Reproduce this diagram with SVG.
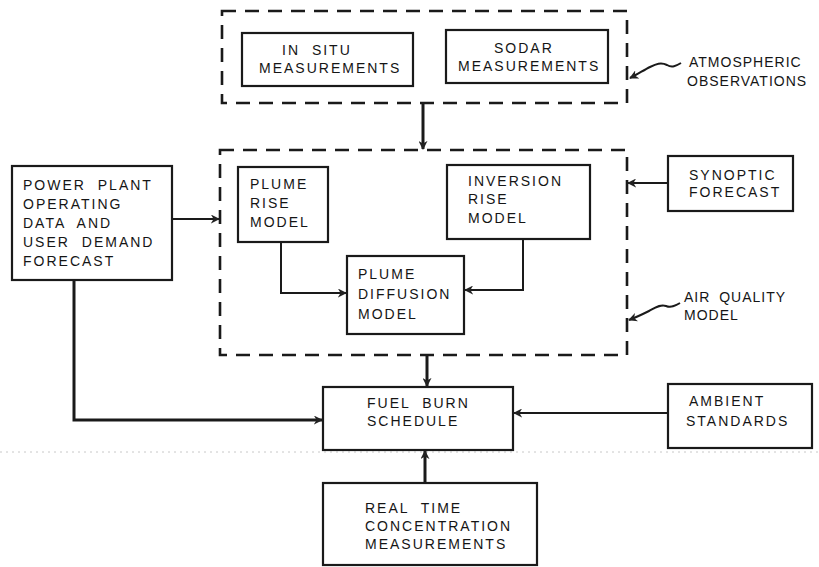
<svg xmlns="http://www.w3.org/2000/svg" width="819" height="567" viewBox="0 0 819 567">
<defs>
<marker id="ah" viewBox="0 0 10 10" refX="9" refY="5" markerWidth="9" markerHeight="9" markerUnits="userSpaceOnUse" orient="auto">
<path d="M0,0 L10,5 L0,10 L3,5 Z" fill="#222"/>
</marker>
<style>
.box{fill:none;stroke:#1a1a1a;stroke-width:2.2}
.dash{fill:none;stroke:#1a1a1a;stroke-width:2.6;stroke-dasharray:14 9}
.ln{fill:none;stroke:#1a1a1a;stroke-width:2}
.thick{fill:none;stroke:#1a1a1a;stroke-width:3}
text{font-family:"Liberation Sans",Arial,sans-serif;font-size:14px;letter-spacing:2px;word-spacing:6px;fill:#151515}
text.lbl{letter-spacing:1px;word-spacing:4px}
</style>
</defs>
<rect width="819" height="567" fill="#fff"/>
<line x1="0" y1="452" x2="819" y2="452" stroke="#c8c8c8" stroke-width="1" stroke-dasharray="2 4"/>

<g id="atmospheric-observations">
<rect class="dash" x="222" y="11" width="405" height="92"/>
<text class="lbl" x="689" y="67">ATMOSPHERIC</text>
<text class="lbl" x="687" y="86">OBSERVATIONS</text>
</g>
<g id="in-situ">
<rect class="box" x="242" y="33" width="171" height="53"/>
<text x="282" y="55">IN SITU</text>
<text x="259" y="73">MEASUREMENTS</text>
</g>
<g id="sodar">
<rect class="box" x="446" y="30" width="162" height="53"/>
<text x="494" y="53">SODAR</text>
<text x="458" y="71">MEASUREMENTS</text>
</g>

<g id="air-quality-model">
<rect class="dash" x="220" y="150" width="407" height="205"/>
<text class="lbl" x="684" y="302">AIR QUALITY</text>
<text class="lbl" x="684" y="320">MODEL</text>
</g>
<g id="plume-rise">
<rect class="box" x="238" y="167" width="90" height="75"/>
<text x="250" y="189">PLUME</text>
<text x="250" y="208">RISE</text>
<text x="250" y="227">MODEL</text>
</g>
<g id="inversion-rise">
<rect class="box" x="447" y="165" width="143" height="74"/>
<text x="468" y="186">INVERSION</text>
<text x="468" y="204">RISE</text>
<text x="468" y="223">MODEL</text>
</g>
<g id="plume-diffusion">
<rect class="box" x="347" y="256" width="117" height="78"/>
<text x="358" y="279">PLUME</text>
<text x="358" y="299">DIFFUSION</text>
<text x="358" y="319">MODEL</text>
</g>

<g id="power-plant">
<rect class="box" x="12" y="166" width="160" height="114"/>
<text x="23" y="190">POWER PLANT</text>
<text x="23" y="209">OPERATING</text>
<text x="23" y="228">DATA AND</text>
<text x="23" y="247">USER DEMAND</text>
<text x="23" y="266">FORECAST</text>
</g>

<g id="synoptic-forecast">
<rect class="box" x="668" y="156" width="125" height="55"/>
<text x="689" y="180">SYNOPTIC</text>
<text x="689" y="197">FORECAST</text>
</g>

<g id="fuel-burn">
<rect class="box" x="323" y="387" width="190" height="63"/>
<text x="367" y="408">FUEL BURN</text>
<text x="367" y="426">SCHEDULE</text>
</g>
<g id="ambient-standards">
<rect class="box" x="668" y="384" width="144" height="64"/>
<text x="689" y="406">AMBIENT</text>
<text x="686" y="426">STANDARDS</text>
</g>
<g id="real-time">
<rect class="box" x="323" y="483" width="214" height="82"/>
<text x="365" y="513">REAL TIME</text>
<text x="365" y="531">CONCENTRATION</text>
<text x="365" y="549">MEASUREMENTS</text>
</g>

<g id="connectors">
<line class="thick" x1="423" y1="104" x2="423" y2="149" marker-end="url(#ah)"/>
<line class="ln" x1="172" y1="219" x2="219" y2="219" marker-end="url(#ah)"/>
<polyline class="ln" points="281,242 281,293 346,293" marker-end="url(#ah)"/>
<polyline class="ln" points="523,239 523,290 465,290" marker-end="url(#ah)"/>
<line class="ln" x1="668" y1="183" x2="628" y2="183" marker-end="url(#ah)"/>
<polyline class="thick" points="74,280 74,420 322,420" marker-end="url(#ah)"/>
<line class="thick" x1="427" y1="355" x2="427" y2="386" marker-end="url(#ah)"/>
<line class="ln" x1="668" y1="413" x2="514" y2="413" marker-end="url(#ah)"/>
<line class="thick" x1="425" y1="483" x2="425" y2="451" marker-end="url(#ah)"/>
<path class="ln" d="M681,63 C676,66 672,68 667,65 C661,62 656,64 650,67 C644,70 638,74 630,78" marker-end="url(#ah)"/>
<path class="ln" d="M680,303 C675,306 671,308 666,306 C660,304 655,308 649,311 C643,314 637,317 629,320" marker-end="url(#ah)"/>
</g>
</svg>
